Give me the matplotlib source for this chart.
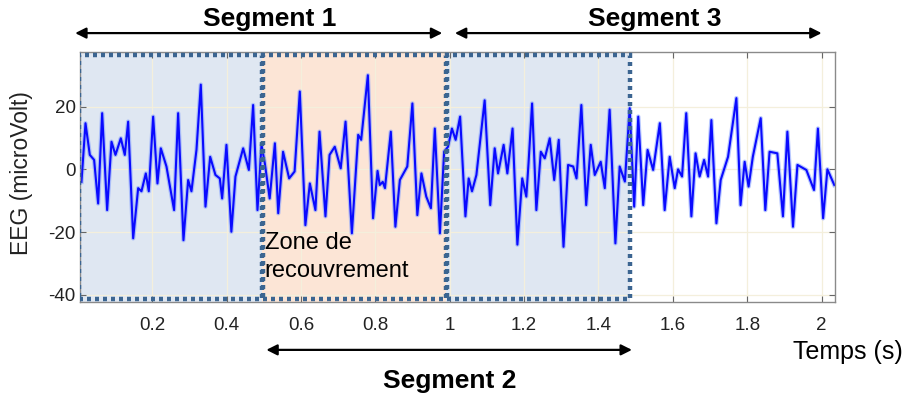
import matplotlib
matplotlib.use("Agg")
import matplotlib.pyplot as plt
from matplotlib.patches import Rectangle

plt.rcParams['font.family'] = ['Liberation Sans', 'DejaVu Sans']
plt.rcParams['axes.unicode_minus'] = False

# EEG trace (time in s, amplitude in microvolt)
t = [0.010, 0.0208, 0.0324, 0.044, 0.0548, 0.0656, 0.079, 0.0907, 0.1014, 0.1158,
     0.1265, 0.1355, 0.149, 0.1624, 0.1713, 0.183, 0.191, 0.2027, 0.2143, 0.2233,
     0.2385, 0.259, 0.2699, 0.2842, 0.2968, 0.3057, 0.3192, 0.3308, 0.3434, 0.356,
     0.3702, 0.3819, 0.3882, 0.3998,
     0.413, 0.424, 0.4447, 0.460, 0.4715, 0.4832, 0.494, 0.503, 0.516, 0.530,
     0.539, 0.552, 0.5683, 0.583, 0.597, 0.612, 0.624, 0.639, 0.650, 0.666,
     0.677, 0.691, 0.707, 0.720, 0.737, 0.754, 0.762, 0.780, 0.794,
     0.806, 0.812, 0.820, 0.826,
     0.8417, 0.854, 0.866, 0.886, 0.8997, 0.913, 0.924, 0.937, 0.9495, 0.960,
     0.9737, 0.985, 0.9955, 1.006, 1.016, 1.028, 1.0423, 1.051, 1.060, 1.0718,
     1.094, 1.109, 1.121, 1.130, 1.145, 1.155, 1.169, 1.182, 1.195, 1.206,
     1.212, 1.2215, 1.233, 1.245, 1.2556, 1.269, 1.281, 1.2932, 1.306, 1.3183,
     1.332, 1.341, 1.354, 1.367, 1.3792, 1.390, 1.406, 1.417, 1.430, 1.4455,
     1.457, 1.471, 1.484, 1.496, 1.507, 1.5203, 1.532, 1.547, 1.565, 1.578,
     1.5915, 1.605,
     1.614, 1.6247, 1.636, 1.6498, 1.661, 1.672, 1.684, 1.6947, 1.7036, 1.7171,
     1.7286, 1.7484, 1.7708, 1.782, 1.793, 1.8036, 1.815, 1.8362, 1.8486, 1.860,
     1.8809, 1.896, 1.9079, 1.923, 1.935, 1.9589, 1.9795, 1.990, 2.004, 2.0155,
     2.034]
eeg = [-4, 14.7, 4.6, 3.0, -10.9, 17.9, -13.0, 8.8, 4.6, 9.9,
       4.6, 15.2, -22.0, -6.0, -7.0, -1.3, -7.0, 16.8, -4.5, 6.7,
       0.9, -13.0, 17.9, -22.6, -3.4, -7.0, 6.2, 27.0, -11.9, 4.0,
       -1.8, -2.9, -9.3, 7.8,
       -19.9, -2.3, 6.7, -0.2, 20.5, -13.0, 7.8, 1.9, -9.3, 8.3,
       -14.0, 5.6, -2.9, -0.7, 24.8, -17.8, -4.5, -13.0, 12.0, -15.0,
       4.6, 7.2, 0.3, 15.2, -20.4, 11.0, 9.4, 30.0, -15.6,
       -0.5, -5.0, -4.0, -6.0,
       12.0, -18.3, -3.4, 0.9, 21.0, -14.6, -1.3, -8.7, -12.4, 13.0,
       -20.4, 5.6, 7.2, 13.0, 9.4, 16.8, -15.0, -2.9, -7.0, -1.8,
       22.0, -11.4, 6.7, -1.3, 7.8, -1.3, 13.0, -24.0, -2.9, -8.7,
       2.0, 21.0, -13.0, 5.6, 3.5, 9.9, -3.4, 9.4, -24.7, 1.4,
       0.9, -2.9, 20.5, -11.4, 7.8, -1.8, 2.4, -6.0, 19.0, -23.6,
       0.9, -3.9, 19.5, -11.9, 16.8, -11.4, 6.2, -0.2, 14.7, -13.0,
       4.0, -6.0,
       0.0, -2.3, 17.9, -15.0, 5.1, -2.3, 3.0, -2.3, 15.7, -17.2,
       -3.4, 4.0, 22.7, -11.4, 2.4, -5.5, 4.0, 16.3, -13.0, 5.6,
       5.1, -15.0, 12.0, -18.3, 1.4, -0.2, -6.6, 13.0, -15.6, 0.0,
       -5.0]

# analysis windows (start, end) and their fill colours
windows = [(0.0, 0.495), (0.495, 0.99), (0.99, 1.485)]
window_colors = ['#dfe7f2', '#fce5d6', '#dfe7f2']

x_ticks = [0.2, 0.4, 0.6, 0.8, 1.0, 1.2, 1.4, 1.6, 1.8, 2.0]
x_ticklabels = ['0.2', '0.4', '0.6', '0.8', '1', '1.2', '1.4', '1.6', '1.8', '2']
y_ticks = [-40, -20, 0, 20]

fig = plt.figure(figsize=(9.11, 3.94), dpi=100)
ax = fig.add_axes([0.0878, 0.2335, 0.8288, 0.6345])

ax.set_xlim(0.006, 2.036)
ax.set_ylim(-42.3, 37.4)

xy_trans = ax.get_xaxis_transform()
for (a, b), c in zip(windows, window_colors):
    ax.add_patch(Rectangle((a, 0.0), b - a, 1.0, transform=xy_trans,
                           facecolor=c, edgecolor='none', zorder=0.2))

ax.grid(True, color='#f4efdc', linewidth=0.9)
ax.set_axisbelow(True)

ax.plot(t, eeg, color='#7f9cff', linewidth=3.2, alpha=0.55, zorder=2)
ax.plot(t, eeg, color='#0a0aff', linewidth=1.5, zorder=2.1)

for a, b in windows:
    ax.add_patch(Rectangle((a + 0.004, 0.012), b - a - 0.004, 0.976, transform=xy_trans,
                           fill=False, edgecolor='#3b6591', linewidth=3.2,
                           linestyle=(0, (0.9, 0.9)), zorder=3))

ax.set_xticks(x_ticks)
ax.set_xticklabels(x_ticklabels)
ax.set_yticks(y_ticks)
ax.tick_params(direction='in', length=4, color='#666666', labelsize=13.5,
               labelcolor='#222222', top=True, right=True)
ax.tick_params(axis='x', pad=11)
ax.tick_params(axis='y', pad=3)
for s in ax.spines.values():
    s.set_color('#8a8a8a')
    s.set_linewidth(1.0)

fig.text(0.024, 0.56, 'EEG (microVolt)', rotation=90, ha='center', va='center',
         fontsize=16.5, color='#222222')
fig.text(0.931, 0.107, 'Temps (s)', ha='center', va='center', fontsize=18)

ax.text(0.503, -23.5, 'Zone de', ha='left', va='center', fontsize=17, zorder=4)
ax.text(0.503, -32.4, 'recouvrement', ha='left', va='center', fontsize=17, zorder=4)

# segment arrows: x in data units, y in figure fraction
arrow_kw = dict(arrowstyle='<|-|>', color='black', lw=1.6, mutation_scale=16,
                shrinkA=0, shrinkB=0)
seg_coords = ('data', 'figure fraction')
ax.annotate('', xy=(-0.007, 0.916), xytext=(0.98, 0.916), xycoords=seg_coords,
            textcoords=seg_coords, arrowprops=arrow_kw, annotation_clip=False)
ax.annotate('', xy=(1.014, 0.916), xytext=(2.0, 0.916), xycoords=seg_coords,
            textcoords=seg_coords, arrowprops=arrow_kw, annotation_clip=False)
ax.annotate('', xy=(0.507, 0.112), xytext=(1.49, 0.112), xycoords=seg_coords,
            textcoords=seg_coords, arrowprops=arrow_kw, annotation_clip=False)

fig.text(270 / 911, 0.952, 'Segment 1', ha='center', va='center',
         fontsize=19, fontweight='bold')
fig.text(655 / 911, 0.952, 'Segment 3', ha='center', va='center',
         fontsize=19, fontweight='bold')
fig.text(450 / 911, 0.033, 'Segment 2', ha='center', va='center',
         fontsize=19, fontweight='bold')

fig.savefig('out.png', dpi=100)
